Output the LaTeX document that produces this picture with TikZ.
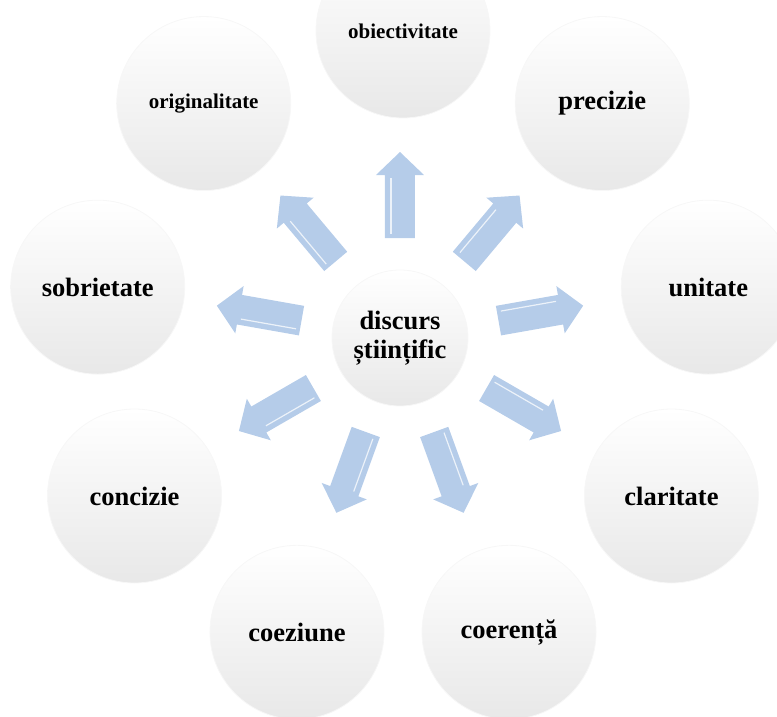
\documentclass[tikz,border=0pt]{standalone}
\usepackage{fontspec}
\setmainfont{Liberation Serif}
\usepackage{tikz}
\usepackage{xcolor}

\definecolor{arrowblue}{RGB}{181,204,233}

\tikzset{
  bubble/.style={circle, minimum size=174pt, inner sep=0pt, draw=black!3, line width=0.8pt,
    top color=white, middle color=white, bottom color=black!9,
    font=\bfseries\fontsize{26.5}{29}\selectfont, align=center},
  smalltext/.style={font=\bfseries\fontsize{21}{24}\selectfont}
}

\begin{document}
\begin{tikzpicture}[x=1pt, y=1pt]
  % page size as in the reference
  \useasboundingbox (-403,-375) rectangle (374,341);

  % outer bubbles on a ring
  \node[bubble, smalltext] (obiect) at (90:310) {obiectivitate};
  \node[bubble] (precizie) at (50:310) {precizie};
  \node[bubble] (unitate) at (10:310) {unitate};
  \node[bubble] (claritate) at (-30:310) {claritate};
  \node[bubble] (coerenta) at (-70:310) {coerență};
  \node[bubble] (coeziune) at (-110:310) {coeziune};
  \node[bubble] (concizie) at (-150:310) {concizie};
  \node[bubble] (sobrietate) at (170:310) {sobrietate};
  \node[bubble, smalltext] (original) at (130:310) {originalitate};

  % centre bubble
  \node[bubble, minimum size=136pt] (centru) at (-3,3) {discurs\\științific};

  % block arrows going out of the centre
  \foreach \ang in {90,50,...,-230} {
    \begin{scope}[shift={(centru.center)}, rotate=\ang]
      \fill[arrowblue] (100,-15) -- (163,-15) -- (163,-24) -- (186,0)
        -- (163,24) -- (163,15) -- (100,15) -- cycle;
      \draw[white, line width=1.2pt, opacity=0.75] (104,9) -- (160,9);
    \end{scope}
  }
\end{tikzpicture}
\end{document}
